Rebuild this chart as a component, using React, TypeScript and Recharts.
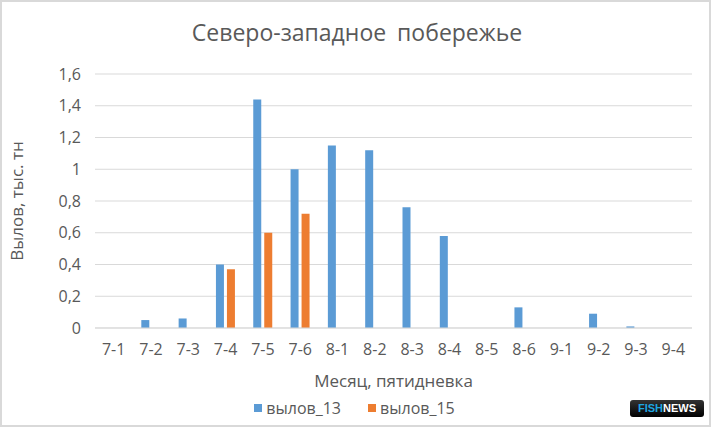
import React from "react";
import { BarChart, Bar, XAxis, YAxis, CartesianGrid, Legend } from "recharts";

const periods = ["7-1", "7-2", "7-3", "7-4", "7-5", "7-6", "8-1", "8-2", "8-3", "8-4", "8-5", "8-6", "9-1", "9-2", "9-3", "9-4"];
const catch13 = [0, 0.05, 0.06, 0.4, 1.44, 1.0, 1.15, 1.12, 0.76, 0.58, 0, 0.13, 0, 0.09, 0.01, 0];
const catch15 = [0, 0, 0, 0.37, 0.6, 0.72, 0, 0, 0, 0, 0, 0, 0, 0, 0, 0];
const yTicks = [0, 0.2, 0.4, 0.6, 0.8, 1, 1.2, 1.4, 1.6];

const data = periods.map((p, i) => ({ period: p, v13: catch13[i], v15: catch15[i] }));

const FONT = "Open Sans, sans-serif";
const TEXT = "#595959";

const fmt = (v: number) => String(v).replace(".", ",");

const LegendContent = (props: any) => (
  <div style={{ display: "flex", justifyContent: "center", paddingLeft: 12, fontFamily: FONT, fontSize: 16, color: TEXT }}>
    {(props.payload || []).map((item: any, i: number) => (
      <div key={item.value} style={{ display: "flex", alignItems: "center", marginLeft: i ? 27 : 0 }}>
        <span style={{ width: 8, height: 8, background: item.color, marginRight: 4, display: "inline-block" }} />
        <span>{item.value}</span>
      </div>
    ))}
  </div>
);

export default function App() {
  return (
    <div style={{ position: "absolute", left: 0, top: 0, width: 714, height: 429, background: "#fff" }}>
      <div
        style={{
          position: "absolute",
          left: 0,
          top: 0,
          width: 707,
          height: 423,
          border: "2px solid #d9d9d9",
        }}
      />
      <div
        style={{
          position: "absolute",
          left: 0,
          top: 16,
          width: 714,
          textAlign: "center",
          fontFamily: FONT,
          fontSize: 23,
          color: TEXT,
          wordSpacing: 5,
        }}
      >
        Северо-западное побережье
      </div>
      <BarChart
        width={714}
        height={429}
        data={data}
        margin={{ top: 74, right: 22, left: 5, bottom: 8 }}
        barGap={3}
        barSize={8}
        style={{ position: "absolute", left: 0, top: 0 }}
      >
        <CartesianGrid vertical={false} stroke="#d9d9d9" />
        <XAxis
          dataKey="period"
          axisLine={{ stroke: "#d9d9d9" }}
          tickLine={false}
          tickMargin={10}
          height={69}
          tick={{ fill: TEXT, fontSize: 16, fontFamily: FONT }}
          interval={0}
          label={{ value: "Месяц, пятидневка", position: "insideBottom", offset: 10, fill: TEXT, fontSize: 17, fontFamily: FONT }}
        />
        <YAxis
          width={90}
          domain={[0, 1.6]}
          ticks={yTicks}
          axisLine={false}
          tickLine={false}
          tickMargin={8}
          tickFormatter={fmt}
          tick={{ fill: TEXT, fontSize: 16, fontFamily: FONT }}
          label={{
            value: "Вылов, тыс. тн",
            angle: -90,
            position: "insideLeft",
            offset: 12,
            fill: TEXT,
            fontSize: 17,
            fontFamily: FONT,
            style: { textAnchor: "middle" },
          }}
        />
        <Legend verticalAlign="bottom" height={24} content={<LegendContent />} />
        <Bar dataKey="v13" name="вылов_13" fill="#5b9bd5" isAnimationActive={false} />
        <Bar dataKey="v15" name="вылов_15" fill="#ed7d31" isAnimationActive={false} />
      </BarChart>
      <div
        style={{
          position: "absolute",
          left: 630,
          top: 400,
          width: 74,
          height: 17,
          borderRadius: 3,
          background: "linear-gradient(#333, #000)",
          fontFamily: "Liberation Sans, Arial, sans-serif",
          fontWeight: "bold",
          fontSize: 11,
          lineHeight: "17px",
          textAlign: "center",
        }}
      >
        <span style={{ color: "#1ea6e0" }}>FISH</span>
        <span style={{ color: "#fff" }}>NEWS</span>
      </div>
    </div>
  );
}
